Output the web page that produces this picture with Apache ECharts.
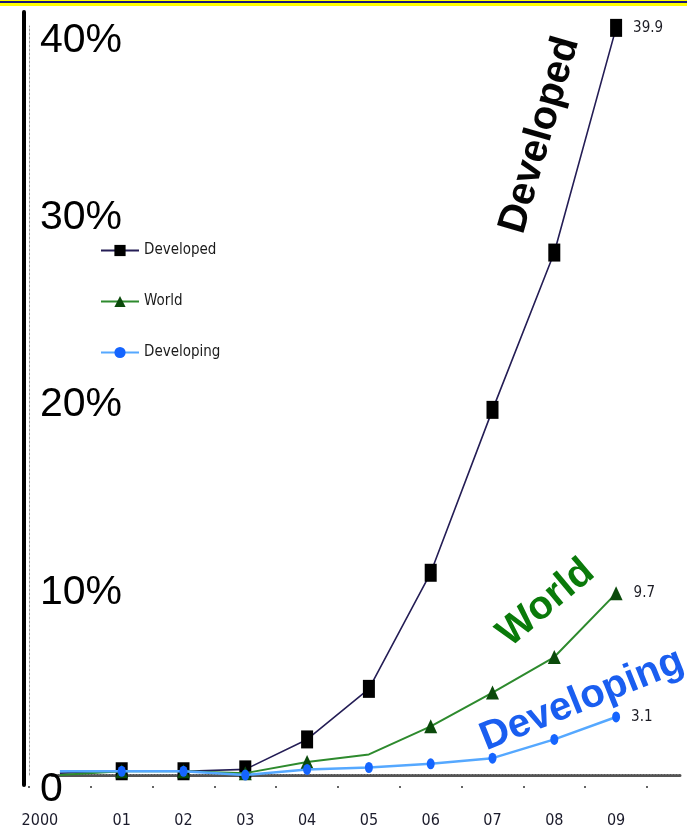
<!DOCTYPE html>
<html>
<head>
<meta charset="utf-8">
<script src="https://cdn.jsdelivr.net/npm/echarts@6/dist/echarts.min.js"></script>
<style>
  html, body { margin: 0; padding: 0; background: #ffffff; }
  #chart { width: 687px; height: 833px; }
</style>
</head>
<body>
<div id="chart"></div>
<script>
// Category labels along the bottom
const years = ['2000', '01', '02', '03', '04', '05', '06', '07', '08', '09'];

// Shares in percent, one value per year
const developed  = [0.1, 0.2, 0.2, 0.3, 1.9, 4.6, 10.8, 19.5, 27.9, 39.9];
const world      = [0.0, 0.2, 0.2, 0.1, 0.7, 1.1, 2.6, 4.4, 6.3, 9.7];
const developing = [0.2, 0.2, 0.2, 0.0, 0.3, 0.4, 0.6, 0.9, 1.9, 3.1];

// Points drawn without a marker
const developedNoMarker  = [0];
const worldNoMarker      = [0, 5];
const developingNoMarker = [0];

// Value axis tick labels
const yTickLabels = { 0: '0', 10: '10%', 20: '20%', 30: '30%', 40: '40%' };

const NARROW = "'Liberation Sans Narrow','Arial Narrow','DejaVu Sans Condensed',sans-serif";
const SANS = "'Liberation Sans',Arial,Helvetica,sans-serif";

// Build series data: hide selected markers, label the final point with its value
function buildData(values, noMarker) {
  return values.map((v, i) => {
    const item = { value: v };
    if (noMarker.includes(i)) item.symbol = 'none';
    if (i === values.length - 1) {
      item.label = {
        show: true,
        position: 'right',
        distance: 11,
        formatter: String(v),
        fontFamily: NARROW,
        fontSize: 15,
        color: '#1c1c24'
      };
    }
    return item;
  });
}

const chart = echarts.init(document.getElementById('chart'), null, { renderer: 'canvas' });

const option = {
  animation: false,
  backgroundColor: '#ffffff',
  grid: [
    // main plotting area
    { left: 29, top: 26, width: 618, height: 749, containLabel: false },
    // dotted baseline running across the foot of the plot
    { left: 52, top: 26, width: 628, height: 749 },
    // heavy vertical rule at the left
    { left: 24, top: 12, width: 10, height: 773 }
  ],
  xAxis: [
    {
      type: 'category',
      gridIndex: 0,
      data: years,
      boundaryGap: true,
      axisLine: { show: false },
      axisTick: {
        show: true,
        interval: 0,
        alignWithLabel: false,
        length: 14,
        lineStyle: { color: '#333', width: 1.5, type: [0, 11, 2, 100] }
      },
      axisLabel: {
        interval: 0,
        margin: 38,
        fontFamily: NARROW,
        fontSize: 16,
        color: '#1b1b2b',
        formatter: (v) => v === '2000' ? '{first|' + v + '}' : v,
        rich: {
          first: { padding: [0, 40, 0, 0], fontFamily: NARROW, fontSize: 16, color: '#1b1b2b' }
        }
      },
      splitLine: { show: false }
    },
    {
      type: 'value',
      gridIndex: 1,
      min: 0,
      max: 1,
      axisLine: { show: true, lineStyle: { color: '#555555', width: 3, type: [1, 2] } },
      axisTick: { show: false },
      axisLabel: { show: false },
      splitLine: { show: false }
    },
    {
      type: 'value',
      gridIndex: 2,
      min: 0,
      max: 1,
      show: false
    }
  ],
  yAxis: [
    {
      type: 'value',
      gridIndex: 0,
      min: 0,
      max: 40,
      interval: 10,
      axisLine: { show: true, lineStyle: { color: '#9a9a9a', width: 1, type: [2, 2] } },
      axisTick: { show: false },
      splitLine: { show: false },
      axisLabel: {
        inside: true,
        margin: 11,
        align: 'left',
        verticalAlign: 'middle',
        formatter: (v) => {
          const t = yTickLabels[v];
          return (v === 0 || v === 40) ? '{edge|' + t + '}' : '{mid|' + t + '}';
        },
        rich: {
          edge: { fontFamily: SANS, fontSize: 41, color: '#000', padding: [29, 0, 0, 0] },
          mid:  { fontFamily: SANS, fontSize: 41, color: '#000', padding: [9, 0, 0, 0] }
        }
      }
    },
    {
      type: 'value',
      gridIndex: 1,
      min: 0,
      max: 1,
      show: false
    },
    {
      type: 'value',
      gridIndex: 2,
      min: 0,
      max: 1,
      position: 'left',
      axisLine: { show: true, lineStyle: { color: '#000', width: 4 } },
      axisTick: { show: false },
      axisLabel: { show: false },
      splitLine: { show: false }
    }
  ],
  legend: {
    orient: 'vertical',
    left: 95,
    top: 238,
    itemWidth: 38,
    itemHeight: 14,
    itemGap: 36,
    textStyle: { fontFamily: NARROW, fontSize: 15, color: '#1a1a1a' },
    data: ['Developed', 'World', 'Developing']
  },
  series: [
    {
      name: 'Developed',
      type: 'line',
      xAxisIndex: 0,
      yAxisIndex: 0,
      data: buildData(developed, developedNoMarker),
      symbol: 'rect',
      symbolSize: [12, 18],
      showAllSymbol: true,
      itemStyle: { color: '#000000' },
      lineStyle: { color: '#241d55', width: 1.6 },
      z: 3
    },
    {
      name: 'World',
      type: 'line',
      xAxisIndex: 0,
      yAxisIndex: 0,
      data: buildData(world, worldNoMarker),
      symbol: 'triangle',
      symbolSize: [13, 14],
      showAllSymbol: true,
      itemStyle: { color: '#0b4a0b' },
      lineStyle: { color: '#2d8a2d', width: 2 },
      z: 4
    },
    {
      name: 'Developing',
      type: 'line',
      xAxisIndex: 0,
      yAxisIndex: 0,
      data: buildData(developing, developingNoMarker),
      symbol: 'circle',
      symbolSize: [8, 11],
      showAllSymbol: true,
      itemStyle: { color: '#1565ff' },
      lineStyle: { color: '#55a8ff', width: 2.5 },
      z: 5
    }
  ],
  graphic: [
    // banner strip across the top edge
    { type: 'rect', left: 0, top: 0, shape: { width: 687, height: 6 }, style: { fill: '#ffff00' }, z: 10 },
    { type: 'rect', left: 0, top: 1, shape: { width: 687, height: 2 }, style: { fill: '#1a1a7a' }, z: 11 },
    // series names written along their lines
    {
      type: 'text', x: 540, y: 135, rotation: 74 * Math.PI / 180, z: 20,
      style: { text: 'Developed', font: "bold 40px 'Liberation Sans', Arial, sans-serif", fill: '#050505', align: 'center', verticalAlign: 'middle' }
    },
    {
      type: 'text', x: 546, y: 603, rotation: 40 * Math.PI / 180, z: 20,
      style: { text: 'World', font: "bold 40px 'Liberation Sans', Arial, sans-serif", fill: '#0a7a0a', align: 'center', verticalAlign: 'middle' }
    },
    {
      type: 'text', x: 582, y: 700, rotation: 22 * Math.PI / 180, z: 20,
      style: { text: 'Developing', font: "bold 40px 'Liberation Sans', Arial, sans-serif", fill: '#1a5ef0', align: 'center', verticalAlign: 'middle' }
    }
  ]
};

chart.setOption(option);
</script>
</body>
</html>
